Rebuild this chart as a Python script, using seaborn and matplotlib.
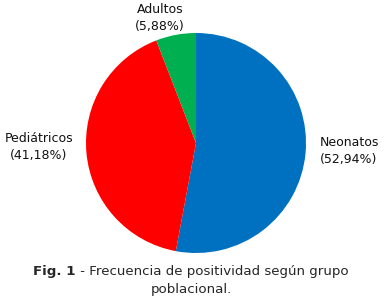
import matplotlib
matplotlib.use("Agg")
import matplotlib.pyplot as plt
import seaborn as sns

categories = ["Neonatos", "Pediátricos", "Adultos"]
values = [52.94, 41.18, 5.88]
pct_labels = ["52,94%", "41,18%", "5,88%"]
colors = ["#0070C0", "#FF0000", "#00B050"]

sns.set_style("white")
plt.rcParams['font.family'] = ['DejaVu Sans']

W, H = 387, 302
fig = plt.figure(figsize=(W / 100, H / 100), dpi=100)
cx, cy, r = 196, 143, 110
ax = fig.add_axes([(cx - r) / W, (H - cy - r) / H, 2 * r / W, 2 * r / H])
ax.pie(values, colors=colors, startangle=90, counterclock=False,
       wedgeprops=dict(linewidth=0, edgecolor="none"))
ax.set_aspect("equal")
ax.set_xlim(-1, 1)
ax.set_ylim(-1, 1)
ax.axis("off")

label_pos = [(349, 151), (39, 147), (160, 18)]
fs = 9.0
for cat, p, (x, y) in zip(categories, pct_labels, label_pos):
    fig.text(x / W, 1 - y / H, f"{cat}\n({p})", ha="center", va="center",
             fontsize=fs, linespacing=1.35, color="#111111")

# caption: bold prefix + regular text, centered as one line
cfs = 9.6
renderer = fig.canvas.get_renderer()
t1 = fig.text(0, 1 - 272 / H, "Fig. 1", ha="left", va="center",
              fontsize=cfs, fontweight="bold")
t2 = fig.text(0, 1 - 272 / H, " - Frecuencia de positividad según grupo",
              ha="left", va="center", fontsize=cfs)
w1 = t1.get_window_extent(renderer).width
w2 = t2.get_window_extent(renderer).width
x0 = 191 - (w1 + w2) / 2
t1.set_x(x0 / W)
t2.set_x((x0 + w1) / W)
fig.text(191 / W, 1 - 289 / H, "poblacional.", ha="center", va="center",
         fontsize=cfs)

fig.savefig("out.png", dpi=100)
